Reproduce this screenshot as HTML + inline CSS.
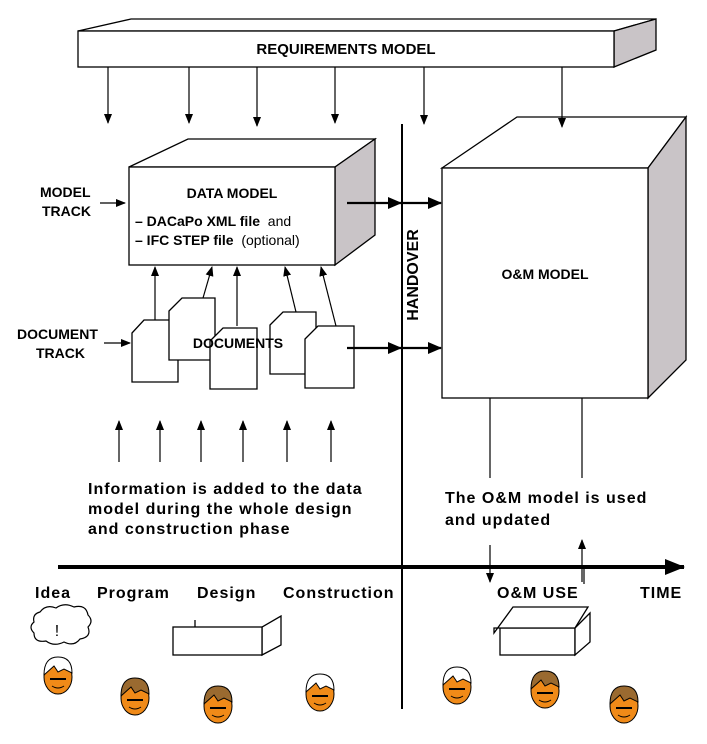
<!DOCTYPE html>
<html><head><meta charset="utf-8"><style>
html,body{margin:0;padding:0;background:#fff;}
svg{display:block;font-family:"Liberation Sans",sans-serif;}
</style></head><body>
<svg width="707" height="744" viewBox="0 0 707 744" xmlns="http://www.w3.org/2000/svg">
<defs>
<marker id="a" markerWidth="10" markerHeight="10" refX="9" refY="5" orient="auto" markerUnits="userSpaceOnUse"><path d="M0,1 L10,5 L0,9 Z" fill="#000"/></marker>
<marker id="ab" markerWidth="14" markerHeight="12" refX="13" refY="6" orient="auto" markerUnits="userSpaceOnUse"><path d="M0,0 L14,6 L0,12 Z" fill="#000"/></marker>
<marker id="at" markerWidth="20" markerHeight="16" refX="19" refY="8" orient="auto" markerUnits="userSpaceOnUse"><path d="M0,0 L20,8 L0,16 Z" fill="#000"/></marker>
</defs>
<g stroke="#000" stroke-width="1.3" fill="#fff">
<path d="M78,31 L131,19 L656,19 L614,31 Z"/>
<path d="M614,31 L656,19 L656,50 L614,67 Z" fill="#c9c4c7"/>
<rect x="78" y="31" width="536" height="36"/>
<path d="M129,167 L188,139 L375,139 L335,167 Z"/>
<path d="M335,167 L375,139 L375,235 L335,265 Z" fill="#c9c4c7"/>
<rect x="129" y="167" width="206" height="98"/>
<path d="M442,168 L517,117 L686,117 L648,168 Z"/>
<path d="M648,168 L686,117 L686,360 L648,398 Z" fill="#c9c4c7"/>
<rect x="442" y="168" width="206" height="230"/>
<path d="M132,333 L144,320 L178,320 L178,382 L132,382 Z"/>
<path d="M169,311 L182,298 L215,298 L215,360 L169,360 Z"/>
<path d="M210,341 L223,328 L257,328 L257,389 L210,389 Z"/>
<path d="M270,325 L283,312 L316,312 L316,374 L270,374 Z"/>
<path d="M305,339 L318,326 L354,326 L354,388 L305,388 Z"/>
</g>
<g stroke="#000" stroke-width="1.2" fill="none" marker-end="url(#a)">
<line x1="108" y1="67" x2="108" y2="123"/>
<line x1="189" y1="67" x2="189" y2="123"/>
<line x1="257" y1="67" x2="257" y2="126"/>
<line x1="335" y1="67" x2="335" y2="123"/>
<line x1="424" y1="67" x2="424" y2="124"/>
<line x1="562" y1="67" x2="562" y2="127"/>
<line x1="100" y1="203" x2="125" y2="203"/>
<line x1="104" y1="343" x2="130" y2="343"/>
<line x1="155" y1="320" x2="155" y2="267"/>
<line x1="203" y1="298" x2="212" y2="267"/>
<line x1="237" y1="326" x2="237" y2="267"/>
<line x1="296" y1="312" x2="285" y2="267"/>
<line x1="336" y1="326" x2="321" y2="267"/>
<line x1="119" y1="462" x2="119" y2="421"/>
<line x1="160" y1="462" x2="160" y2="421"/>
<line x1="201" y1="462" x2="201" y2="421"/>
<line x1="243" y1="462" x2="243" y2="421"/>
<line x1="287" y1="462" x2="287" y2="421"/>
<line x1="331" y1="462" x2="331" y2="421"/>
<line x1="490" y1="545" x2="490" y2="582"/>
<line x1="582" y1="582" x2="582" y2="540"/>
</g>
<g stroke="#000" stroke-width="1.2">
<line x1="490" y1="398" x2="490" y2="478"/>
<line x1="582" y1="398" x2="582" y2="478"/>
<line x1="584" y1="566" x2="584" y2="584"/>
</g>
<g stroke="#000" stroke-width="2.2" marker-end="url(#ab)">
<line x1="347" y1="203" x2="401" y2="203"/>
<line x1="403" y1="203" x2="441" y2="203"/>
<line x1="347" y1="348" x2="401" y2="348"/>
<line x1="403" y1="348" x2="441" y2="348"/>
</g>
<line x1="402" y1="124" x2="402" y2="709" stroke="#000" stroke-width="2"/>
<line x1="58" y1="567" x2="684" y2="567" stroke="#000" stroke-width="4" marker-end="url(#at)"/>
<g font-size="14" font-weight="bold">
<text x="346" y="54" text-anchor="middle" font-size="15">REQUIREMENTS MODEL</text>
<text x="232" y="198" text-anchor="middle">DATA MODEL</text>
<text x="135" y="226">– DACaPo XML file <tspan font-weight="normal">&#160;and</tspan></text>
<text x="135" y="245">– IFC STEP file <tspan font-weight="normal">&#160;(optional)</tspan></text>
<text x="40" y="197">MODEL</text>
<text x="42" y="216">TRACK</text>
<text x="17" y="339">DOCUMENT</text>
<text x="36" y="358">TRACK</text>
<text x="238" y="348" text-anchor="middle">DOCUMENTS</text>
<text x="545" y="279" text-anchor="middle">O&amp;M MODEL</text>
<text transform="translate(418,275) rotate(-90)" text-anchor="middle" font-size="16">HANDOVER</text>
</g>
<g font-size="16" font-weight="bold" letter-spacing="1">
<text x="88" y="494">Information is added to the data</text>
<text x="88" y="514">model during the whole design</text>
<text x="88" y="534">and construction phase</text>
<text x="445" y="503">The O&amp;M model is used</text>
<text x="445" y="525">and updated</text>
<text x="35" y="598">Idea</text>
<text x="97" y="598">Program</text>
<text x="197" y="598">Design</text>
<text x="283" y="598">Construction</text>
<text x="497" y="598">O&amp;M USE</text>
<text x="640" y="598">TIME</text>
</g>
<path d="M40,612 q6,-8 16,-4 q8,-6 18,-1 q12,-3 14,8 q6,6 0,12 q4,10 -8,12 q-6,8 -16,3 q-10,5 -18,-1 q-12,2 -12,-8 q-6,-6 0,-11 q-2,-8 6,-10 Z" fill="#fff" stroke="#000" stroke-width="1.2"/>
<text x="57" y="636" font-size="16" text-anchor="middle">!</text>
<g stroke="#000" stroke-width="1.3" fill="#fff">
<path d="M262,627 L281,616 L281,645 L262,655 Z"/>
<rect x="173" y="627" width="89" height="28"/>
<line x1="195" y1="620" x2="195" y2="627"/>
<rect x="500" y="628" width="75" height="27"/>
<path d="M575,628 L590,613 L590,642 L575,655 Z"/>
<path d="M494,633 L513,607 L588,607 L575,628 L494,628 Z"/>
</g>
<g stroke="#000" stroke-width="1">
<g fill="#f08a18">
<ellipse cx="58" cy="677" rx="14" ry="17"/>
<ellipse cx="135" cy="698" rx="14" ry="17"/>
<ellipse cx="218" cy="706" rx="14" ry="17"/>
<ellipse cx="320" cy="694" rx="14" ry="17"/>
<ellipse cx="457" cy="687" rx="14" ry="17"/>
<ellipse cx="545" cy="691" rx="14" ry="17"/>
<ellipse cx="624" cy="706" rx="14" ry="17"/>
</g>
<path d="M44,675 q0,-18 14,-18 q14,0 14,16 l-8,-4 l-6,3 l-4,-6 z" fill="#fff"/>
<path d="M306,692 q0,-18 14,-18 q14,0 14,16 l-8,-4 l-6,3 l-4,-6 z" fill="#fff"/>
<path d="M443,685 q0,-18 14,-18 q14,0 14,16 l-8,-4 l-6,3 l-4,-6 z" fill="#fff"/>
<path d="M121,696 q0,-18 14,-18 q14,0 14,16 l-8,-4 l-6,3 l-4,-6 z" fill="#9a6a30"/>
<path d="M204,704 q0,-18 14,-18 q14,0 14,16 l-8,-4 l-6,3 l-4,-6 z" fill="#9a6a30"/>
<path d="M531,689 q0,-18 14,-18 q14,0 14,16 l-8,-4 l-6,3 l-4,-6 z" fill="#9a6a30"/>
<path d="M610,704 q0,-18 14,-18 q14,0 14,16 l-8,-4 l-6,3 l-4,-6 z" fill="#9a6a30"/>
</g>
<g fill="#000">
<rect x="50" y="678" width="16" height="2"/><path d="M52,686 q6,4 12,0" stroke="#000" fill="none"/>
<rect x="127" y="699" width="16" height="2"/><path d="M129,707 q6,4 12,0" stroke="#000" fill="none"/>
<rect x="210" y="707" width="16" height="2"/><path d="M212,715 q6,4 12,0" stroke="#000" fill="none"/>
<rect x="312" y="695" width="16" height="2"/><path d="M314,703 q6,4 12,0" stroke="#000" fill="none"/>
<rect x="449" y="688" width="16" height="2"/><path d="M451,696 q6,4 12,0" stroke="#000" fill="none"/>
<rect x="537" y="692" width="16" height="2"/><path d="M539,700 q6,4 12,0" stroke="#000" fill="none"/>
<rect x="616" y="707" width="16" height="2"/><path d="M618,715 q6,4 12,0" stroke="#000" fill="none"/>
</g>
</svg>
</body></html>
